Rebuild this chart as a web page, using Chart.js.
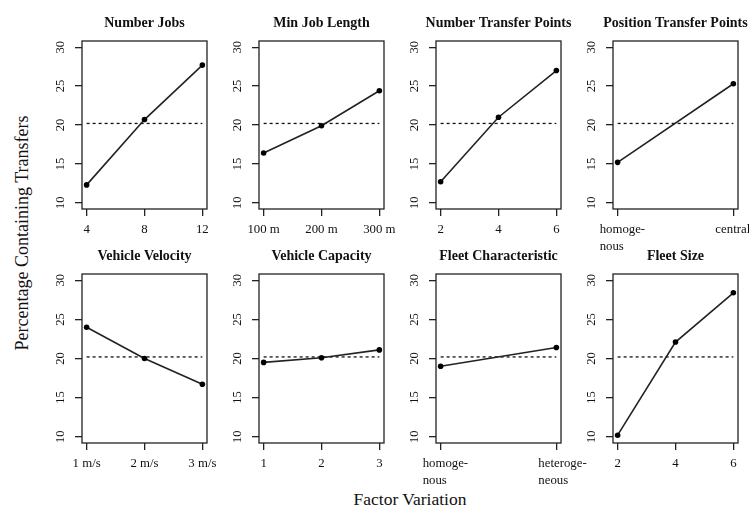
<!DOCTYPE html>
<html>
<head>
<meta charset="utf-8">
<script src="https://cdn.jsdelivr.net/npm/chart.js@4.4.1/dist/chart.umd.min.js"></script>
<style>
  body { margin: 0; width: 749px; height: 509px; overflow: hidden; background: #fff; position: relative; }
  canvas { position: absolute; }
  .lab { position: absolute; font-family: "Liberation Serif", "DejaVu Serif", serif; color: #111; white-space: nowrap; }
  #ylab { left: 22px; top: 233px; font-size: 18px; transform: translate(-50%, -50%) rotate(-90deg); }
  #xlab { left: 410px; top: 499px; font-size: 17.5px; transform: translate(-50%, -50%); }
</style>
</head>
<body>
<div id="ylab" class="lab">Percentage Containing Transfers</div>
<div id="xlab" class="lab">Factor Variation</div>

<script>
// panel titles
const titles = ["Number Jobs", "Min Job Length", "Number Transfer Points", "Position Transfer Points",
                "Vehicle Velocity", "Vehicle Capacity", "Fleet Characteristic", "Fleet Size"];

// factor levels (x positions) and their tick labels
const levels = [[4, 8, 12], [1, 2, 3], [2, 4, 6], [1, 2],
                [1, 2, 3], [1, 2, 3], [1, 2], [2, 4, 6]];
const levelLabels = [
  ["4", "8", "12"],
  ["100 m", "200 m", "300 m"],
  ["2", "4", "6"],
  [["homoge-", "nous"], "central"],
  ["1 m/s", "2 m/s", "3 m/s"],
  ["1", "2", "3"],
  [["homoge-", "nous"], ["heteroge-", "neous"]],
  ["2", "4", "6"]
];

// percentage containing transfers per level
const percentNumberJobs = [12.3, 20.7, 27.7];
const percentMinJobLength = [16.4, 19.9, 24.4];
const percentNumberTransfer = [12.7, 21.0, 27.0];
const percentPositionTransfer = [15.2, 25.3];
const percentVelocity = [24.0, 20.0, 16.7];
const percentCapacity = [19.5, 20.1, 21.1];
const percentFleetChar = [19.0, 21.4];
const percentFleetSize = [10.2, 22.1, 28.4];
const values = [percentNumberJobs, percentMinJobLength, percentNumberTransfer, percentPositionTransfer,
                percentVelocity, percentCapacity, percentFleetChar, percentFleetSize];

// overall mean (dotted reference line) and y ticks
const overallMean = 20.2;
const yTicks = [10, 15, 20, 25, 30];

Chart.defaults.font.family = '"Liberation Serif", "DejaVu Serif", serif';
Chart.defaults.color = '#111';

// layout of the plot boxes
const boxLeft = [82, 259, 436, 613];
const boxTop = [41, 274];
const boxH = [168, 169];
const boxW = 125;
const padL = 60, padT = 40, padR = 45, padB = 60;
const yAxisW = 30, xAxisH = 45;

//#region R-like frame, rotated y labels, titles
const rStyle = {
  id: 'rStyle',
  afterDraw(chart, args, opts) {
    const { ctx, chartArea: a, scales: { y } } = chart;
    ctx.save();
    ctx.strokeStyle = '#222';
    ctx.lineWidth = 1.3;
    ctx.strokeRect(a.left, a.top, a.width, a.height);

    ctx.fillStyle = '#111';
    ctx.textAlign = 'center';
    ctx.textBaseline = 'middle';
    ctx.font = '12.5px "Liberation Serif"';
    yTicks.forEach(v => {
      const py = y.getPixelForValue(v);
      ctx.save();
      ctx.translate(a.left - 21, py);
      ctx.rotate(-Math.PI / 2);
      ctx.fillText(String(v), 0, 0);
      ctx.restore();
    });

    ctx.font = 'bold 14px "Liberation Serif"';
    ctx.fillText(opts.title, (a.left + a.right) / 2, a.top - 18);
    ctx.restore();
  }
};
//#endregion

titles.forEach((title, i) => {
  const row = Math.floor(i / 4), col = i % 4;
  const canvas = document.createElement('canvas');
  canvas.width = padL + boxW + padR;
  canvas.height = padT + boxH[row] + padB;
  canvas.style.left = (boxLeft[col] - padL) + 'px';
  canvas.style.top = (boxTop[row] - padT) + 'px';
  document.body.appendChild(canvas);

  const xs = levels[i];
  const span = xs[xs.length - 1] - xs[0];
  // word labels are set flush left, a bit before the tick
  const wordy = levelLabels[i].some(l => Array.isArray(l));

  new Chart(canvas.getContext('2d'), {
    type: 'line',
    data: {
      datasets: [{
        data: xs.map((x, k) => ({ x: x, y: values[i][k] })),
        borderColor: '#222',
        borderWidth: 1.6,
        pointRadius: 2.8,
        pointBackgroundColor: '#000',
        pointBorderWidth: 0,
        tension: 0
      }, {
        data: [{ x: xs[0], y: overallMean }, { x: xs[xs.length - 1], y: overallMean }],
        borderColor: '#111',
        borderWidth: 1.3,
        borderDash: [3, 3],
        pointRadius: 0
      }]
    },
    options: {
      responsive: false,
      animation: false,
      devicePixelRatio: 1,
      layout: { autoPadding: false, padding: { left: padL - yAxisW, top: padT, right: padR, bottom: padB - xAxisH } },
      plugins: { legend: { display: false }, tooltip: { enabled: false }, rStyle: { title: title } },
      scales: {
        x: {
          type: 'linear',
          min: xs[0] - 0.04 * span,
          max: xs[xs.length - 1] + 0.04 * span,
          afterBuildTicks: s => { s.ticks = xs.map(v => ({ value: v })); },
          afterFit: s => { s.height = xAxisH; s.paddingLeft = 0; s.paddingRight = 0; },
          ticks: {
            autoSkip: false, maxRotation: 0, minRotation: 0, padding: 5,
            align: wordy ? 'start' : 'center',
            labelOffset: wordy ? -18 : 0,
            font: { size: 12.8, lineHeight: 1.35 },
            callback: (v, k) => levelLabels[i][k]
          },
          grid: { drawOnChartArea: false, drawTicks: true, tickLength: 7, color: '#222', lineWidth: 1.3 },
          border: { display: false }
        },
        y: {
          min: 9.2,
          max: 30.8,
          afterBuildTicks: s => { s.ticks = yTicks.map(v => ({ value: v })); },
          afterFit: s => { s.width = yAxisW; s.paddingTop = 0; s.paddingBottom = 0; },
          ticks: { display: false },
          grid: { drawOnChartArea: false, drawTicks: true, tickLength: 7, color: '#222', lineWidth: 1.3 },
          border: { display: false }
        }
      }
    },
    plugins: [rStyle]
  });
});
</script>
</body>
</html>
